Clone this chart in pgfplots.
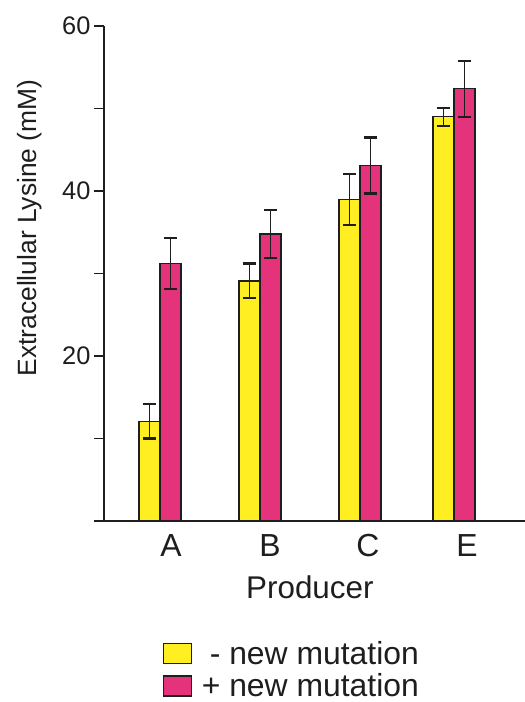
\documentclass[border=0pt]{standalone}
\usepackage{pgfplots}
\pgfplotsset{compat=1.18}
\usepackage{fontspec}
\setmainfont{Liberation Sans}
\definecolor{ybarc}{HTML}{FFEE22}
\definecolor{pbarc}{HTML}{E4337A}
\definecolor{ink}{HTML}{1E1E1E}
\begin{document}
\begin{tikzpicture}
\useasboundingbox[fill=white] (0,0) rectangle (525bp,702bp);
\begin{axis}[
 at={(104bp,181bp)}, anchor=south west,
 scale only axis, width=421bp, height=495bp,
 xmin=-0.56, xmax=3.65, ymin=0, ymax=60,
 axis x line=bottom, axis y line=left,
 axis line style={-, ink, line width=1.3bp},
 tick align=outside, major tick length=10bp,
 ytick={0,10,...,60}, yticklabels={,,20,,40,,60},
 y tick style={ink, line width=1.3bp},
 xtick={0.11,1.1,2.08,3.07}, xticklabels={A,B,C,E},
 x tick style={draw=none},
 /pgf/number format/assume math mode=true,
 yticklabel style={font=\fontsize{25.5}{30}\selectfont, text=ink},
 xticklabel style={font=\fontsize{32}{36}\selectfont, text=ink},
 ylabel={Extracellular Lysine (mM)},
 ylabel style={at={(axis description cs:-0.176,0.592)}, anchor=center, font=\fontsize{26.5}{32}\selectfont, text=ink},
 xlabel={Producer},
 xlabel style={at={(axis description cs:0.489,-0.133)}, anchor=center, font=\fontsize{31.5}{36}\selectfont, text=ink},
 ybar, bar width=0.21,
 legend style={draw=none, fill=none, at={(axis description cs:0.14,-0.238)}, anchor=north west,
   font=\fontsize{32}{36}\selectfont, text=ink, row sep=4bp, inner sep=0pt},
 legend cell align=left,
 error bars/error bar style={line width=1.8bp, ink},
 error bars/error mark options={rotate=90, mark size=6.8bp, line width=2.3bp, ink},
]
\addplot[fill=ybarc, draw=ink, line width=1.3bp, bar shift=-0.105,
  error bars/.cd, y dir=both, y explicit,
  /pgfplots/legend image code/.code={\draw[fill=ybarc, draw=ink, line width=1.3bp] (0bp,-10bp) rectangle (28bp,10bp);}]
 coordinates {(0,12.1) +- (0,2.1) (1,29.1) +- (0,2.1) (2,39.0) +- (0,3.1) (2.94,49.0) +- (0,1.1)};
\addplot[fill=pbarc, draw=ink, line width=1.3bp, bar shift=0.105,
  error bars/.cd, y dir=both, y explicit,
  /pgfplots/legend image code/.code={\draw[fill=pbarc, draw=ink, line width=1.3bp] (0bp,-10bp) rectangle (28bp,10bp);}]
 coordinates {(0,31.2) +- (0,3.1) (1,34.8) +- (0,2.9) (2,43.1) +- (0,3.4) (2.94,52.4) +- (0,3.4)};
\legend{\makebox[26bp][r]{-}\ new mutation, \makebox[26bp][r]{+}\ new mutation}
\end{axis}
\end{tikzpicture}
\end{document}
